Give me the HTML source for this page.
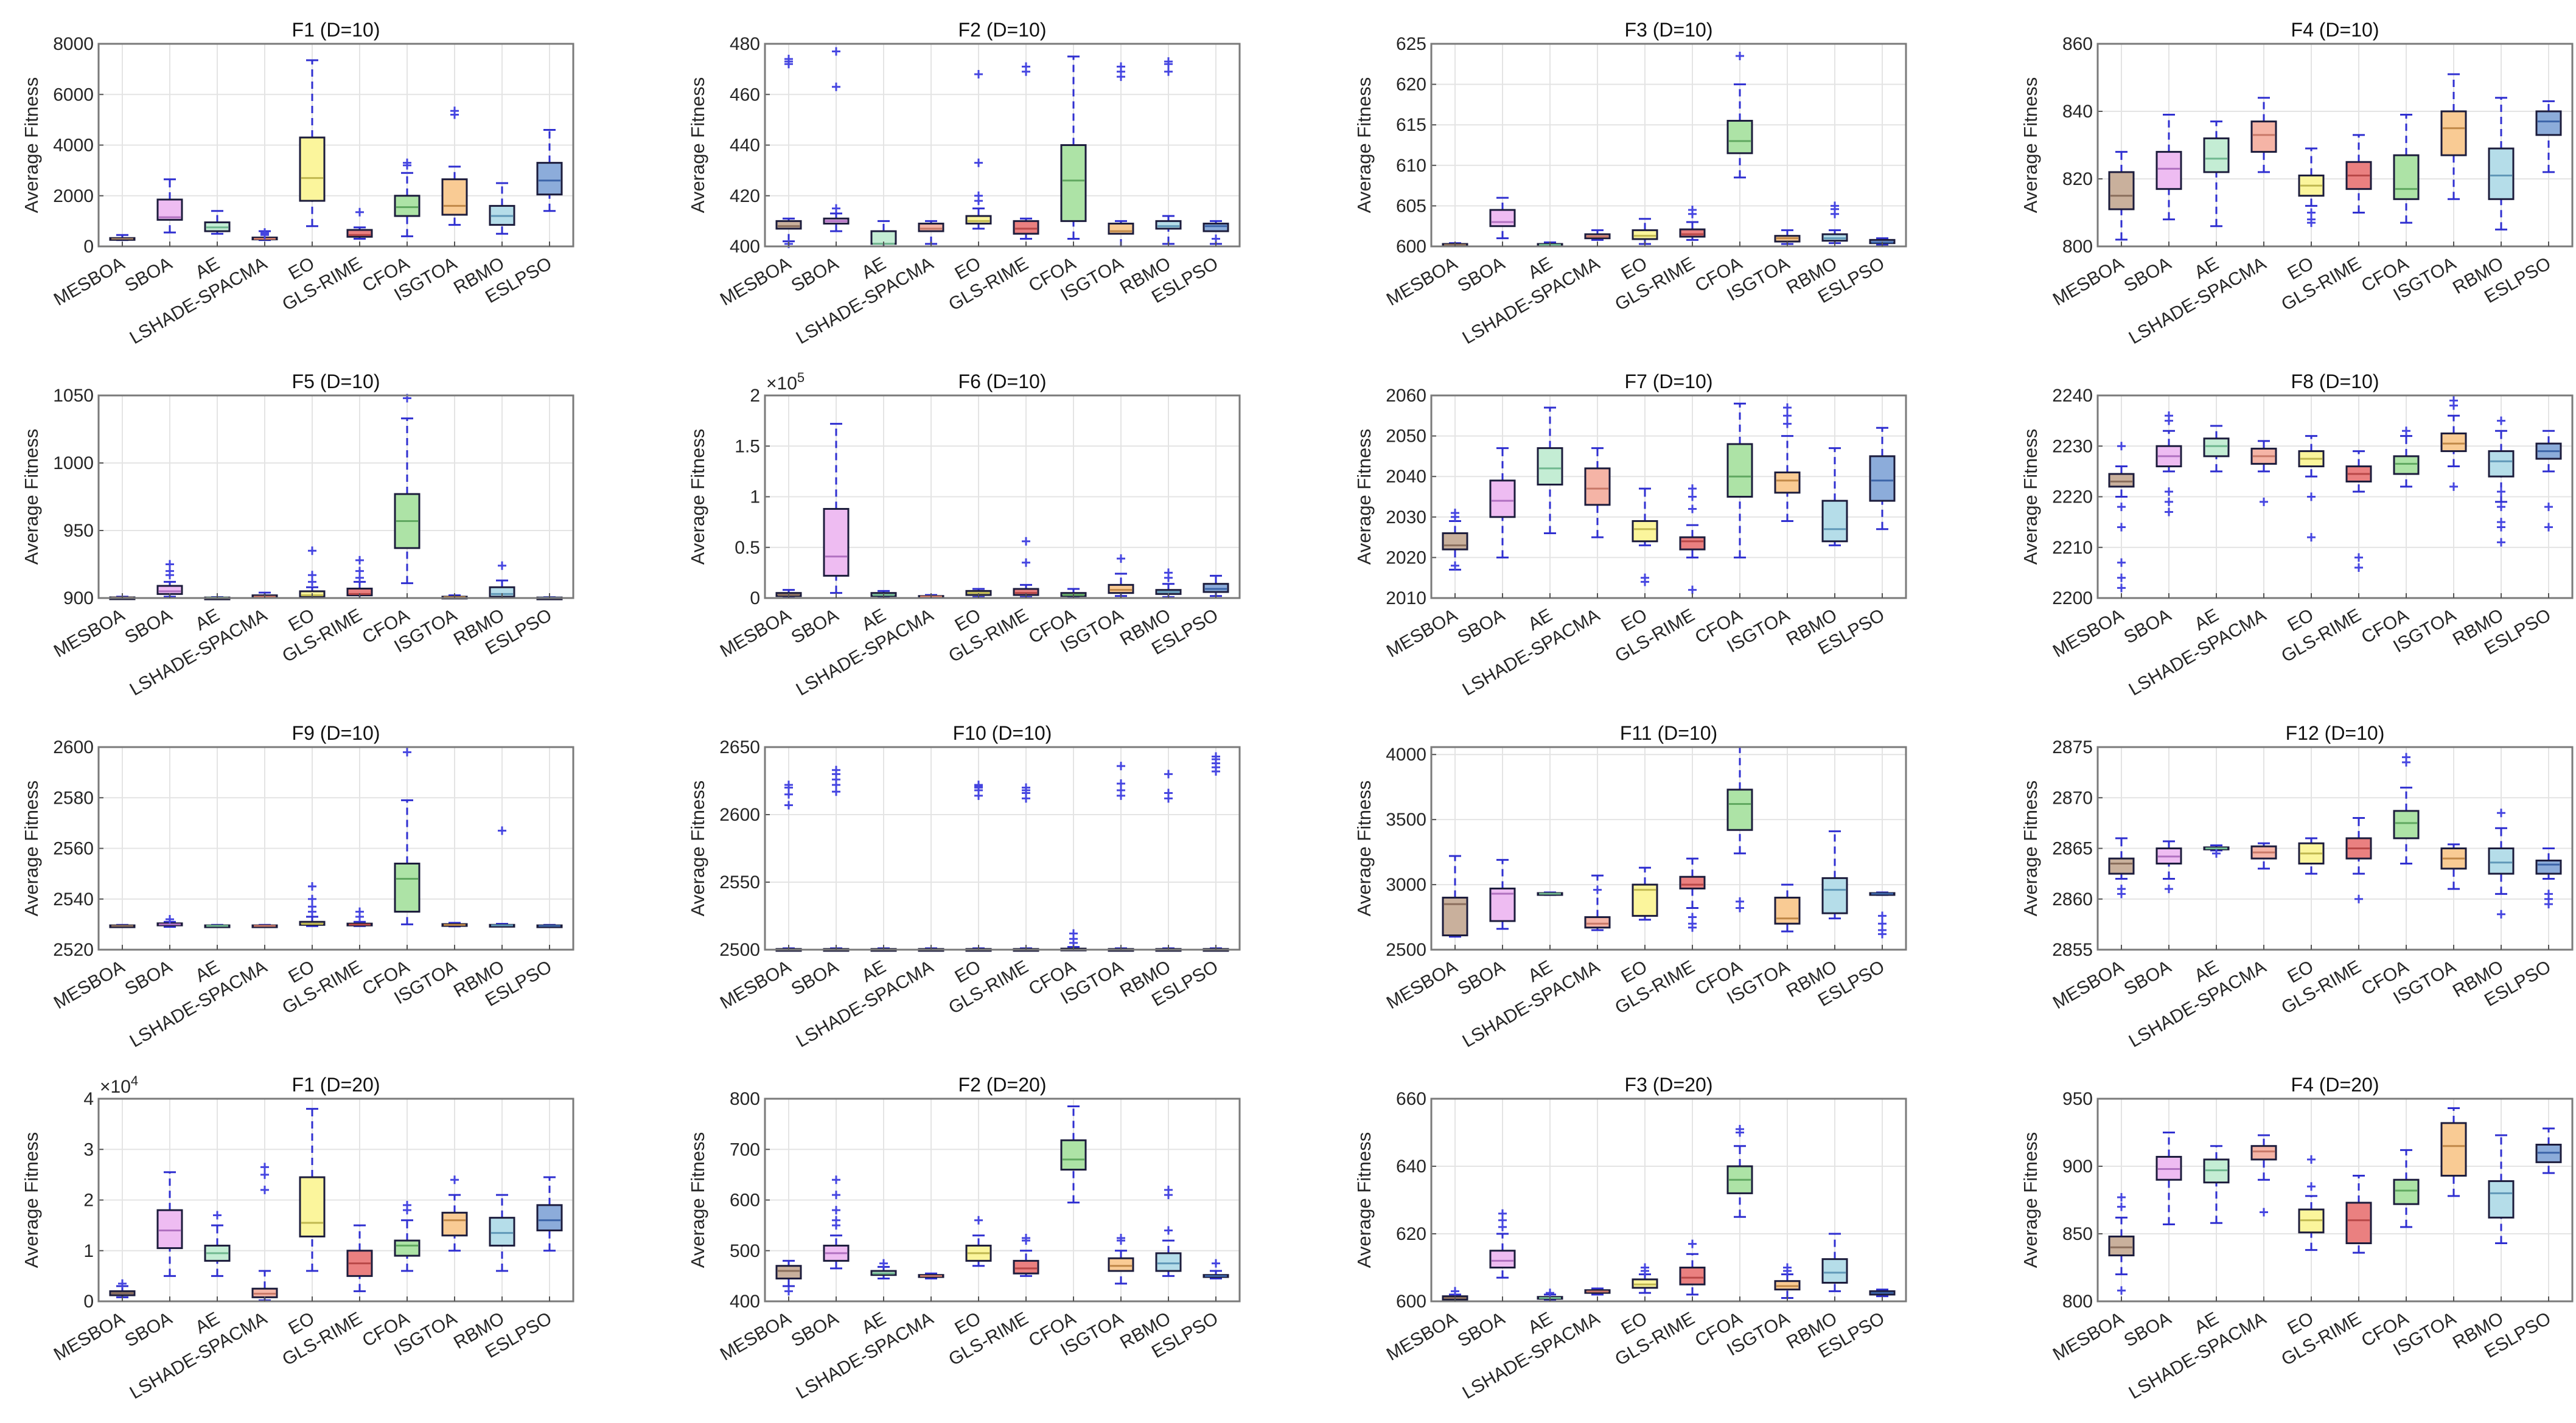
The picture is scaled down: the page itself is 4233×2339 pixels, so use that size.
<!DOCTYPE html>
<html><head><meta charset="utf-8">
<style>
html,body{margin:0;padding:0;background:#fff;}
svg{display:block;font-family:"Liberation Sans",Arial,sans-serif;}
</style></head>
<body>
<svg id="chart" width="4233" height="2339" viewBox="0 0 4233 2339" xmlns="http://www.w3.org/2000/svg"></svg>
<script>
const algorithms = ["MESBOA","SBOA","AE","LSHADE-SPACMA","EO","GLS-RIME","CFOA","ISGTOA","RBMO","ESLPSO"];
const boxColors = ["#c9b09c","#eebcf2","#c4edd4","#f5b4a6","#fbf59c","#ea8080","#ade3a6","#f9cb94","#b5dde9","#8cacda"];
const medianColors = ["#8a6e5c","#b070c0","#70b890","#c87868","#c0b850","#b84848","#60a860","#c08848","#6098b8","#3c64a8"];
const panelTitles = ["F1 (D=10)","F2 (D=10)","F3 (D=10)","F4 (D=10)","F5 (D=10)","F6 (D=10)","F7 (D=10)","F8 (D=10)","F9 (D=10)","F10 (D=10)","F11 (D=10)","F12 (D=10)","F1 (D=20)","F2 (D=20)","F3 (D=20)","F4 (D=20)"];
const yMins = [0,400,600,800,900,0,2010,2200,2520,2500,2500,2855,0,400,600,800];
const yMaxs = [8000,480,625,860,1050,2,2060,2240,2600,2650,4057,2875,4,800,660,950];
const yStep = [2000,20,5,20,50,0.5,10,10,20,50,500,5,1,100,20,50];
const yExp = ["","","","","","5","","","","","","","4","","",""];
// each box: [whiskerLow, q1, median, q3, whiskerHigh, [outliers]]
const f1d10 = [[250,280,300,330,450,[]],[550,1050,1150,1850,2650,[]],[500,600,750,950,1400,[]],[250,280,300,350,600,[450,500,550]],[800,1800,2700,4300,7350,[]],[300,380,450,650,750,[1350]],[400,1200,1550,2000,2900,[3200,3300]],[850,1250,1600,2650,3150,[5200,5350]],[500,850,1200,1600,2500,[]],[1400,2050,2600,3300,4600,[]]];
const f2d10 = [[402,407,408,410,411,[401,472,473,474]],[406,409,410,411,413,[415,463,477]],[400,401,401,406,410,[]],[401,406,407,409,410,[]],[407,409,410,412,415,[418,420,433,468]],[403,405,407,410,411,[469,471]],[403,410,426,440,475,[]],[400,405,406,409,410,[467,469,471]],[401,407,408,410,412,[469,472,473]],[401,406,408,409,410,[403]]];
const f3d10 = [[600,600.1,600.2,600.3,600.4,[]],[601,602.5,603,604.5,606,[]],[600,600.1,600.2,600.3,600.5,[]],[600.8,601,601.2,601.5,602,[]],[600.3,600.9,601.3,602,603.4,[]],[600.8,601.2,601.5,602.1,603,[604,604.5]],[608.5,611.5,613,615.5,620,[623.5]],[600.3,600.6,601,601.3,602,[]],[600.4,600.7,601,601.5,602,[604,604.6,605]],[600.2,600.4,600.5,600.8,601,[]]];
const f4d10 = [[802,811,815,822,828,[]],[808,817,823,828,839,[]],[806,822,826,832,837,[]],[822,828,833,837,844,[]],[812,815,818,821,829,[807,808,810]],[810,817,821,825,833,[]],[807,814,817,827,839,[]],[814,827,835,840,851,[]],[805,814,821,829,844,[]],[822,833,837,840,843,[]]];
const f5d10 = [[900,900,900.3,900.5,901,[]],[901,903,905,909,912,[917,920,925]],[900,900,900.2,900.4,900.7,[]],[900,900.5,901,902,904,[]],[900,901,902,905,908,[912,917,935]],[900,902,903,907,912,[915,920,928]],[911,937,957,977,1033,[1048]],[900,900.3,900.6,901,902,[]],[900,901,903,908,913,[924]],[900,900,900.2,900.4,900.6,[]]];
const f6d10 = [[0.005,0.02,0.03,0.05,0.08,[]],[0.05,0.22,0.41,0.88,1.72,[]],[0.005,0.02,0.03,0.05,0.07,[]],[0.003,0.01,0.015,0.02,0.03,[]],[0.01,0.03,0.05,0.07,0.09,[]],[0.01,0.03,0.05,0.09,0.13,[0.35,0.56]],[0.005,0.02,0.03,0.05,0.09,[]],[0.02,0.05,0.08,0.13,0.24,[0.39]],[0.01,0.04,0.06,0.08,0.14,[0.2,0.25]],[0.02,0.06,0.09,0.14,0.22,[]]];
const f7d10 = [[2017,2022,2023,2026,2029,[2018,2030,2031]],[2020,2030,2034,2039,2047,[]],[2026,2038,2042,2047,2057,[]],[2025,2033,2037,2042,2047,[]],[2023,2024,2027,2029,2037,[2014,2015]],[2020,2022,2024,2025,2028,[2012,2032,2035,2037]],[2020,2035,2040,2048,2058,[]],[2029,2036,2039,2041,2050,[2053,2055,2057]],[2023,2024,2027,2034,2047,[]],[2027,2034,2039,2045,2052,[]]];
const f8d10 = [[2220,2222,2223,2224.5,2226,[2202,2204,2207,2214,2218,2230]],[2225,2226,2228,2230,2233,[2217,2219,2221,2235,2236]],[2225,2228,2230,2231.5,2234,[]],[2225,2226.5,2228,2229.5,2231,[2219]],[2224,2226,2227.5,2229,2232,[2212,2220]],[2221,2223,2224.5,2226,2229,[2206,2208]],[2222,2224.5,2226.5,2228,2232,[2233]],[2226,2229,2230.5,2232.5,2236,[2222,2238,2239]],[2219,2224,2227,2229,2233,[2211,2214,2215,2218,2221,2235]],[2225,2227.5,2229,2230.5,2233,[2214,2218]]];
const f9d10 = [[2529,2529.2,2529.4,2529.6,2529.8,[]],[2529,2529.6,2530,2530.4,2531,[2532]],[2529,2529.2,2529.4,2529.6,2529.8,[]],[2529,2529.2,2529.4,2529.6,2529.8,[]],[2529.3,2529.8,2530.2,2531,2533,[2535,2537,2540,2545]],[2529.3,2529.6,2529.9,2530.3,2531,[2533,2535]],[2530,2535,2548,2554,2579,[2598]],[2529.2,2529.5,2529.8,2530.1,2530.6,[]],[2529.2,2529.4,2529.6,2529.8,2530.2,[2567]],[2529,2529.2,2529.4,2529.6,2529.8,[]]];
const f10d10 = [[2500,2500,2500,2500.5,2501,[2607,2615,2620,2622]],[2500,2500,2500,2500.5,2501,[2617,2622,2626,2630,2633]],[2500,2500,2500,2500.5,2501,[]],[2500,2500,2500,2500.5,2501,[]],[2500,2500,2500,2500.5,2501,[2614,2618,2620,2621,2622]],[2500,2500,2500,2500.5,2501,[2612,2616,2618,2620]],[2500,2500,2500,2500.8,2502,[2505,2508,2512]],[2500,2500,2500,2500.5,2501,[2614,2618,2623,2636]],[2500,2500,2500,2500.5,2501,[2612,2616,2630]],[2500,2500,2500,2500.5,2501,[2632,2635,2638,2641,2643]]];
const f11d10 = [[2600,2610,2850,2900,3220,[]],[2660,2720,2930,2970,3190,[]],[2920,2925,2930,2935,2940,[]],[2650,2670,2700,2750,3070,[2960]],[2730,2760,2960,3000,3130,[]],[2820,2970,3000,3060,3200,[2670,2700,2750]],[3240,3420,3620,3730,4057,[2820,2870]],[2640,2700,2740,2900,3000,[]],[2740,2780,2960,3050,3410,[]],[2920,2925,2930,2935,2940,[2620,2650,2700,2760]]];
const f12d10 = [[2862,2862.5,2863.5,2864,2866,[2860.5,2861]],[2862,2863.5,2864.2,2865,2865.7,[2861]],[2864.8,2864.9,2865,2865.1,2865.3,[2864.5]],[2863,2864,2864.6,2865.2,2865.5,[]],[2862.5,2863.5,2864.5,2865.5,2866,[]],[2862.5,2864,2865,2866,2868,[2860]],[2863.5,2866,2867.5,2868.7,2871,[2873.5,2874]],[2861,2863,2864,2865,2865.4,[]],[2860.5,2862.5,2863.6,2865,2867,[2858.5,2868.5]],[2862,2862.5,2863.4,2863.8,2865,[2859.5,2860,2860.5]]];
const f1d20 = [[0.08,0.12,0.16,0.2,0.3,[0.35]],[0.5,1.05,1.4,1.8,2.55,[]],[0.5,0.8,0.95,1.1,1.5,[1.7]],[0.02,0.08,0.15,0.25,0.6,[2.2,2.5,2.65]],[0.6,1.28,1.55,2.45,3.8,[]],[0.2,0.5,0.75,1.0,1.5,[]],[0.6,0.9,1.1,1.2,1.6,[1.8,1.9]],[1.0,1.3,1.6,1.75,2.1,[2.4]],[0.6,1.1,1.35,1.65,2.1,[]],[1.0,1.4,1.6,1.9,2.45,[]]];
const f2d20 = [[430,445,460,470,480,[420]],[465,480,495,510,530,[550,560,580,610,640]],[445,452,455,460,468,[475]],[445,448,450,452,455,[]],[470,480,495,510,530,[560]],[450,455,465,480,500,[520,525]],[595,660,680,718,785,[]],[435,460,470,485,500,[520,525]],[450,460,475,495,520,[540,610,620]],[445,448,450,452,460,[475]]];
const f3d20 = [[600,600.5,601,601.5,602,[603]],[607,610,612,615,620,[622,624,626]],[600.3,600.8,601,601.3,602,[602.5]],[602,602.5,602.9,603.3,603.8,[]],[602.5,604,605,606.5,608,[609,610]],[602,605,607,610,614,[617]],[625,632,636,640,646,[650,651]],[601,603.5,604.5,606,608,[609,610]],[603,605.5,608.5,612.5,620,[]],[601.5,602,602.5,603,603.5,[]]];
const f4d20 = [[820,834,840,848,862,[808,870,877]],[857,890,898,907,925,[]],[858,888,897,905,915,[]],[890,905,911,915,923,[866]],[838,851,860,868,878,[885,905]],[836,843,860,873,893,[]],[855,872,882,890,912,[]],[878,893,915,932,943,[]],[843,862,880,889,923,[]],[895,903,910,916,928,[]]];
const panelData = [f1d10,f2d10,f3d10,f4d10,f5d10,f6d10,f7d10,f8d10,f9d10,f10d10,f11d10,f12d10,f1d20,f2d20,f3d20,f4d20];

const NS = "http://www.w3.org/2000/svg";
const svg = document.getElementById("chart");
function mk(tag, attrs, parent){
  const e = document.createElementNS(NS, tag);
  for (const k in attrs) e.setAttribute(k, attrs[k]);
  parent.appendChild(e);
  return e;
}
const X0 = 162, XSTEP = 1095, PW = 780, Y0 = 72, YSTEP = 578, PH = 333;

panelData.forEach((data, p) => {
  const col = p % 4, row = Math.floor(p / 4);
  const left = X0 + col * XSTEP, top = Y0 + row * YSTEP, bottom = top + PH;
  const g = mk("g", {}, svg);
  
  
  const ymin = yMins[p], ymax = yMaxs[p];
  const yS = v => bottom - (v - ymin) / (ymax - ymin) * PH;
  const xS = i => left + (i + 0.5) * PW / algorithms.length;
  mk("rect", {x:left, y:top, width:PW, height:PH, fill:"#fff"}, g);
  // grid
  for (let i = 0; i < algorithms.length; i++) {
    mk("line", {x1:xS(i), x2:xS(i), y1:top, y2:bottom, stroke:"#e4e4e4", "stroke-width":2}, g);
  }
  const nT = Math.round((Math.floor(ymax / yStep[p] + 1e-9) * yStep[p] - ymin) / yStep[p]);
  for (let t = 0; t <= nT; t++) {
    const v = ymin + t * yStep[p];
    const y = yS(v);
    mk("line", {x1:left, x2:left+PW, y1:y, y2:y, stroke:"#e4e4e4", "stroke-width":2}, g);
    mk("line", {x1:left, x2:left+8, y1:y, y2:y, stroke:"#555", "stroke-width":2}, g);
    const tl = mk("text", {x:left-8, y:y+10, "text-anchor":"end", "font-size":30, fill:"#262626"}, g);
    
    
    tl.textContent = String(Math.round(v * 100) / 100);
  }
  if (yExp[p]) {
    const ex = mk("text", {x:left+2, y:top-10, "font-size":30, fill:"#262626"}, g);
    
    
    ex.innerHTML = '×10<tspan dy="-12" font-size="22">' + yExp[p] + '</tspan>';
  }
  // boxes
  data.forEach((b, i) => {
    const cx = xS(i), bw = 40, cw = 20;
    const bg = mk("g", {}, g);
    
    
    mk("line", {x1:cx, x2:cx, y1:yS(b[0]), y2:yS(b[1]), stroke:"#2f2fd0", "stroke-width":3, "stroke-dasharray":"12 8"}, bg);
    mk("line", {x1:cx, x2:cx, y1:yS(b[3]), y2:yS(b[4]), stroke:"#2f2fd0", "stroke-width":3, "stroke-dasharray":"12 8"}, bg);
    mk("line", {x1:cx-cw/2, x2:cx+cw/2, y1:yS(b[0]), y2:yS(b[0]), stroke:"#2f2fd0", "stroke-width":3}, bg);
    mk("line", {x1:cx-cw/2, x2:cx+cw/2, y1:yS(b[4]), y2:yS(b[4]), stroke:"#2f2fd0", "stroke-width":3}, bg);
    const h = Math.max(yS(b[1]) - yS(b[3]), 3);
    mk("rect", {x:cx-bw/2, y:yS(b[3]), width:bw, height:h, fill:boxColors[i], stroke:"#1c1c3c", "stroke-width":3}, bg);
    mk("line", {x1:cx-bw/2+2, x2:cx+bw/2-2, y1:yS(b[2]), y2:yS(b[2]), stroke:medianColors[i], "stroke-width":3}, bg);
    b[5].forEach(o => {
      const oy = yS(o);
      mk("path", {d:`M${cx-7},${oy}H${cx+7}M${cx},${oy-7}V${oy+7}`, stroke:"#4545e0", "stroke-width":3, fill:"none"}, bg);
    });
  });
  mk("rect", {x:left, y:top, width:PW, height:PH, fill:"none", stroke:"#7a7a7a", "stroke-width":3}, g);
  // x labels
  algorithms.forEach((a, i) => {
    const cx = xS(i);
    mk("line", {x1:cx, x2:cx, y1:bottom, y2:bottom-8, stroke:"#555", "stroke-width":2}, g);
    const t = mk("text", {x:cx+6, y:bottom+34, "text-anchor":"end", "font-size":30, fill:"#262626", transform:`rotate(-30 ${cx+6} ${bottom+34})`}, g);
    
    
    t.textContent = a;
  });
  const ti = mk("text", {x:left+PW/2, y:top-12, "text-anchor":"middle", "font-size":32, fill:"#111"}, g);
  
  
  ti.textContent = panelTitles[p];
  const yl = mk("text", {x:0, y:0, "text-anchor":"middle", "font-size":31, fill:"#262626", transform:`translate(${left-100} ${top+PH/2}) rotate(-90)`}, g);
  
  
  yl.textContent = "Average Fitness";
});
</script>
</body></html>
